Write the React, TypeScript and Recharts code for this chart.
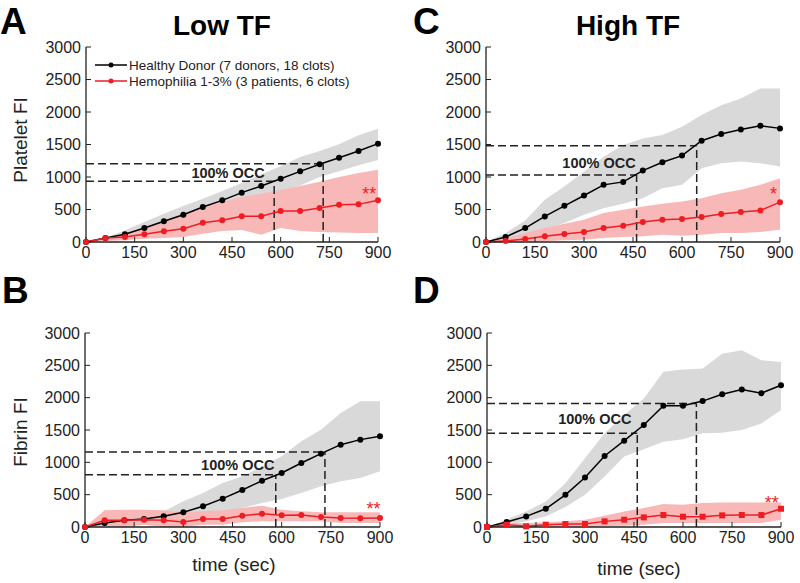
import React from "react";
import { ComposedChart, Line, Area, XAxis, YAxis, ReferenceLine, ReferenceDot } from "recharts";

// sample times (sec)
const TIME = [0, 60, 120, 180, 240, 300, 360, 420, 480, 540, 600, 660, 720, 780, 840, 900];
const X_TICKS = [0, 150, 300, 450, 600, 750, 900];
const Y_TICKS = [0, 500, 1000, 1500, 2000, 2500, 3000];

// A: Low TF, platelet
const A_HD = [0, 60, 118, 215, 318, 420, 538, 641, 759, 862, 974, 1087, 1195, 1297, 1400, 1513];
const A_HD_HI = [0, 67, 180, 308, 436, 554, 667, 785, 908, 1041, 1164, 1308, 1400, 1503, 1641, 1744];
const A_HD_LO = [0, 40, 90, 150, 220, 300, 390, 480, 570, 660, 760, 870, 1000, 1090, 1180, 1262];
const A_HEM = [0, 62, 77, 118, 164, 205, 297, 333, 395, 395, 477, 477, 523, 574, 579, 641];
const A_HEM_HI = [0, 51, 128, 231, 333, 436, 538, 615, 692, 744, 800, 860, 928, 1000, 1060, 1110];
const A_HEM_LO = [0, 15, 26, 51, 62, 77, 128, 170, 185, 110, 215, 170, 155, 145, 140, 140];
const A_OCC_T = [580, 731];
const A_OCC_V = [933, 1205];

// C: High TF, platelet
const C_HD = [0, 77, 215, 393, 557, 715, 879, 925, 1099, 1226, 1329, 1558, 1661, 1732, 1789, 1748];
const C_HD_HI = [0, 138, 332, 649, 853, 1083, 1313, 1492, 1594, 1645, 1773, 1952, 2105, 2207, 2360, 2360];
const C_HD_LO = [0, 26, 87, 189, 291, 419, 521, 588, 675, 828, 879, 1134, 1211, 1237, 1211, 1160];
const C_HEM = [0, 15, 46, 87, 123, 153, 215, 250, 307, 342, 353, 383, 429, 460, 486, 613];
const C_HEM_HI = [0, 61, 138, 215, 281, 342, 445, 496, 547, 588, 623, 675, 751, 802, 879, 981];
const C_HEM_LO = [0, 0, 0, 10, 26, 36, 61, 77, 87, 112, 97, 112, 138, 138, 153, 189];
const C_OCC_T = [461, 645];
const C_OCC_V = [1032, 1482];

// B: Low TF, fibrin
const B_HD = [0, 62, 103, 124, 165, 227, 320, 438, 572, 716, 835, 990, 1134, 1273, 1351, 1402];
const B_HD_HI = [0, 90, 130, 170, 242, 397, 526, 680, 784, 938, 1093, 1325, 1505, 1763, 1943, 1943];
const B_HD_LO = [0, 36, 52, 62, 72, 113, 165, 216, 294, 371, 433, 526, 629, 706, 758, 861];
const B_HEM = [0, 103, 103, 113, 103, 77, 124, 124, 175, 206, 180, 186, 155, 139, 134, 139];
const B_HEM_HI = [0, 258, 268, 268, 258, 227, 242, 258, 294, 330, 268, 242, 227, 227, 227, 227];
const B_HEM_LO = [0, 10, 0, 36, 0, 0, 36, 36, 72, 88, 88, 88, 88, 62, 62, 62];
const B_OCC_T = [582, 732];
const B_OCC_V = [809, 1160];

// D: High TF, fibrin
const D_HD = [0, 77, 164, 282, 498, 765, 1099, 1335, 1577, 1875, 1875, 1947, 2054, 2126, 2070, 2193];
const D_HD_HI = [0, 113, 241, 395, 678, 1063, 1448, 1731, 1988, 2399, 2435, 2450, 2681, 2732, 2578, 2553];
const D_HD_LO = [0, 36, 87, 164, 308, 498, 781, 1089, 1202, 1320, 1356, 1448, 1459, 1500, 1602, 1808];
const D_HEM = [0, 36, 10, 36, 46, 46, 87, 113, 149, 185, 159, 159, 180, 185, 185, 282];
const D_HEM_HI = [0, 62, 62, 72, 87, 113, 175, 241, 293, 354, 344, 370, 380, 380, 380, 380];
const D_HEM_LO = [0, 0, 0, 0, 0, 0, 10, 20, 36, 62, 62, 62, 62, 62, 62, 113];
const D_OCC_T = [460, 641];
const D_OCC_V = [1448, 1911];

const RED = "#ee1d23";
const RED_BAND = "#f9b8b8";
const GREY_BAND = "#d9d9d9";
const INK = "#222";
const FONT = "'Liberation Sans', Arial, sans-serif";

type PanelProps = {
  left: number;
  top: number;
  height: number;
  plotLeft: number;
  plotRight: number;
  plotTop: number;
  plotBottom: number;
  hd: number[];
  hdLo: number[];
  hdHi: number[];
  hem: number[];
  hemLo: number[];
  hemHi: number[];
  occT: number[];
  occV: number[];
  occText: [number, number];
  star: string;
  starPos: [number, number];
  squares?: boolean;
};

function Panel(p: PanelProps) {
  const rows = TIME.map((t, i) => ({
    t,
    hd: p.hd[i],
    hem: p.hem[i],
    hdBand: [p.hdLo[i], p.hdHi[i]],
    hemBand: [p.hemLo[i], p.hemHi[i]],
  }));
  const w = 400;
  const xh = 30;
  const margin = {
    top: p.plotTop - p.top,
    right: p.left + w - p.plotRight,
    bottom: p.top + p.height - p.plotBottom - xh,
    left: 0,
  };
  const axisLine = { stroke: INK, strokeWidth: 1.3 };
  const tick = { fill: INK, fontSize: 16, fontFamily: FONT };
  const dash = { stroke: INK, strokeWidth: 1.5, strokeDasharray: "8 4" };
  const hemDot = p.squares
    ? (d: any) => <rect key={d.index} x={d.cx - 3} y={d.cy - 3} width={6} height={6} fill={RED} />
    : { r: 3, fill: RED, stroke: RED, strokeWidth: 0 };

  return (
    <div style={{ position: "absolute", left: p.left, top: p.top }}>
      <ComposedChart width={w} height={p.height} data={rows} margin={margin}>
        <XAxis xAxisId="b" dataKey="t" type="number" domain={[0, 900]} ticks={X_TICKS} height={xh}
          tickSize={-5} tickMargin={10} axisLine={axisLine} tickLine={{ stroke: INK }} tick={tick} />
        <XAxis xAxisId="top" orientation="top" type="number" domain={[0, 900]} ticks={X_TICKS} height={0}
          allowDataOverflow tickSize={-5} tickFormatter={() => ""} axisLine={axisLine} tickLine={{ stroke: INK }} />
        <YAxis yAxisId="l" type="number" domain={[0, 3000]} ticks={Y_TICKS} width={p.plotLeft - p.left}
          tickSize={-5} tickMargin={10} axisLine={axisLine} tickLine={{ stroke: INK }} tick={tick} />
        <YAxis yAxisId="r" orientation="right" type="number" domain={[0, 3000]} ticks={Y_TICKS} width={0}
          allowDataOverflow tickSize={-5} tickFormatter={() => ""} axisLine={axisLine} tickLine={{ stroke: INK }} />

        <Area xAxisId="b" yAxisId="l" type="linear" dataKey="hdBand" fill={GREY_BAND} fillOpacity={1}
          stroke="none" isAnimationActive={false} />
        <Area xAxisId="b" yAxisId="l" type="linear" dataKey="hemBand" fill={RED_BAND} fillOpacity={1}
          stroke="none" isAnimationActive={false} />

        <ReferenceLine xAxisId="b" yAxisId="l" segment={[{ x: 0, y: p.occV[1] }, { x: p.occT[1], y: p.occV[1] }]} {...dash} />
        <ReferenceLine xAxisId="b" yAxisId="l" segment={[{ x: 0, y: p.occV[0] }, { x: p.occT[0], y: p.occV[0] }]} {...dash} />
        <ReferenceLine xAxisId="b" yAxisId="l" segment={[{ x: p.occT[0], y: 0 }, { x: p.occT[0], y: p.occV[0] }]} {...dash} />
        <ReferenceLine xAxisId="b" yAxisId="l" segment={[{ x: p.occT[1], y: 0 }, { x: p.occT[1], y: p.occV[1] }]} {...dash} />

        <Line xAxisId="b" yAxisId="l" type="linear" dataKey="hd" stroke="#000" strokeWidth={1.5}
          dot={{ r: 3, fill: "#000", stroke: "#000", strokeWidth: 0 }} activeDot={false} isAnimationActive={false} />
        <Line xAxisId="b" yAxisId="l" type="linear" dataKey="hem" stroke={RED} strokeWidth={1.5}
          dot={hemDot as any} activeDot={false} isAnimationActive={false} />

        <ReferenceDot xAxisId="b" yAxisId="l" x={p.occText[0]} y={p.occText[1]} r={0} fill="none" stroke="none"
          label={{ value: "100% OCC", position: "center", fill: INK, fontSize: 14.5, fontWeight: "bold", fontFamily: FONT }} />
        <ReferenceDot xAxisId="b" yAxisId="l" x={p.starPos[0]} y={p.starPos[1]} r={0} fill="none" stroke="none"
          label={{ value: p.star, position: "center", fill: RED, fontSize: 18, fontFamily: FONT }} />
      </ComposedChart>
    </div>
  );
}

export default function App() {
  return (
    <div style={{ position: "absolute", left: 0, top: 0, width: 800, height: 583, background: "#fff", fontFamily: FONT }}>
      <Panel left={0} top={0} height={291} plotLeft={86} plotRight={378} plotTop={47} plotBottom={242}
        hd={A_HD} hdLo={A_HD_LO} hdHi={A_HD_HI} hem={A_HEM} hemLo={A_HEM_LO} hemHi={A_HEM_HI}
        occT={A_OCC_T} occV={A_OCC_V} occText={[438, 1061]} star="**" starPos={[873, 740]} />
      <Panel left={400} top={0} height={291} plotLeft={486} plotRight={780} plotTop={47} plotBottom={242}
        hd={C_HD} hdLo={C_HD_LO} hdHi={C_HD_HI} hem={C_HEM} hemLo={C_HEM_LO} hemHi={C_HEM_HI}
        occT={C_OCC_T} occV={C_OCC_V} occText={[346, 1211]} star="*" starPos={[880, 740]} />
      <Panel left={0} top={290} height={293} plotLeft={85} plotRight={380} plotTop={333} plotBottom={527}
        hd={B_HD} hdLo={B_HD_LO} hdHi={B_HD_HI} hem={B_HEM} hemLo={B_HEM_LO} hemHi={B_HEM_HI}
        occT={B_OCC_T} occV={B_OCC_V} occText={[466, 964]} star="**" starPos={[880, 280]} />
      <Panel left={400} top={290} height={293} plotLeft={487} plotRight={781} plotTop={333} plotBottom={527}
        hd={D_HD} hdLo={D_HD_LO} hdHi={D_HD_HI} hem={D_HEM} hemLo={D_HEM_LO} hemHi={D_HEM_HI}
        occT={D_OCC_T} occV={D_OCC_V} occText={[330, 1680]} star="**" starPos={[872, 370]} squares />

      <svg width={800} height={583} style={{ position: "absolute", left: 0, top: 0, pointerEvents: "none" }}
        fontFamily={FONT}>
        <text x={0} y={34} fontSize={37} fontWeight="bold" fill="#000">A</text>
        <text x={413} y={34} fontSize={37} fontWeight="bold" fill="#000">C</text>
        <text x={2} y={303} fontSize={37} fontWeight="bold" fill="#000">B</text>
        <text x={413} y={303} fontSize={37} fontWeight="bold" fill="#000">D</text>

        <text x={222} y={35} fontSize={28} fontWeight="bold" textAnchor="middle" fill="#000">Low TF</text>
        <text x={628} y={35} fontSize={28} fontWeight="bold" textAnchor="middle" fill="#000">High TF</text>

        <text x={27} y={140} fontSize={19} textAnchor="middle" fill={INK} transform="rotate(-90 27 140)">Platelet FI</text>
        <text x={27} y={432} fontSize={19} textAnchor="middle" fill={INK} transform="rotate(-90 27 432)">Fibrin FI</text>
        <text x={234} y={571} fontSize={19} textAnchor="middle" fill={INK}>time (sec)</text>
        <text x={639} y={575} fontSize={19} textAnchor="middle" fill={INK}>time (sec)</text>

        <line x1={95} x2={127} y1={65} y2={65} stroke="#000" strokeWidth={1.5} />
        <circle cx={111} cy={65} r={2.5} fill="#000" />
        <text x={129} y={69.5} fontSize={13.5} fill={INK}>Healthy Donor (7 donors, 18 clots)</text>
        <line x1={95} x2={127} y1={81} y2={81} stroke={RED} strokeWidth={1.5} />
        <circle cx={111} cy={81} r={2.5} fill={RED} />
        <text x={129} y={85.5} fontSize={13.5} fill={INK}>Hemophilia 1-3% (3 patients, 6 clots)</text>
      </svg>
    </div>
  );
}
